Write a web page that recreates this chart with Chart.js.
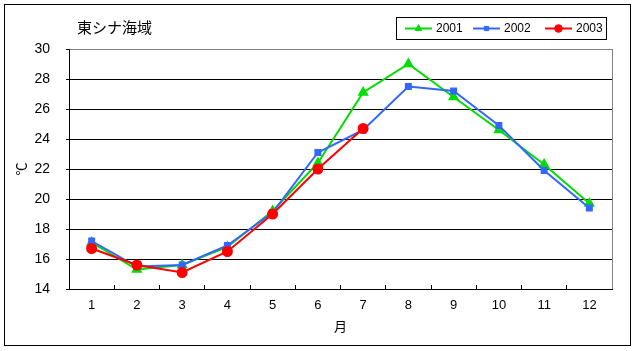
<!DOCTYPE html>
<html>
<head>
<meta charset="utf-8">
<script src="https://cdn.jsdelivr.net/npm/chart.js@4.4.1/dist/chart.umd.min.js"></script>
<style>
  html, body { margin: 0; padding: 0; background: #fff; }
  canvas { display: block; }
</style>
</head>
<body>
<canvas id="chart" width="635" height="351"></canvas>
<script>
// data
const months = ['1', '2', '3', '4', '5', '6', '7', '8', '9', '10', '11', '12'];
const temp2001 = [17.1, 15.3, 15.6, 16.8, 19.2, 22.4, 27.1, 29.0, 26.8, 24.6, 22.3, 19.7];
const temp2002 = [17.2, 15.5, 15.6, 16.9, 19.1, 23.1, 24.6, 27.5, 27.2, 24.9, 21.9, 19.4];
const temp2003 = [16.7, 15.6, 15.1, 16.5, 19.0, 22.0, 24.7, null, null, null, null, null];
const seriesNames = ['2001', '2002', '2003'];
const yMin = 14;
const yMax = 30;
const yStep = 2;
const chartTitle = '東シナ海域';
const xTitle = '月';
const yTitle = '℃';

const numFont = 'Liberation Sans';
const jpFont = 'Noto Sans CJK JP';

// outer frame, title, gray plot border and a boxed legend
const decorPlugin = {
  id: 'decor',
  beforeDraw(chart) {
    const ctx = chart.ctx;
    ctx.save();
    ctx.fillStyle = '#fff';
    ctx.fillRect(0, 0, chart.width, chart.height);
    ctx.strokeStyle = '#000';
    ctx.lineWidth = 1;
    ctx.strokeRect(4.5, 4.5, 626, 341);
    ctx.fillStyle = '#000';
    ctx.font = '15px "' + jpFont + '"';
    ctx.textBaseline = 'middle';
    ctx.fillText(chartTitle, 77, 27);
    ctx.restore();
  },
  beforeDatasetsDraw(chart) {
    const ctx = chart.ctx;
    const a = chart.chartArea;
    ctx.save();
    ctx.strokeStyle = '#808080';
    ctx.lineWidth = 1;
    ctx.beginPath();
    ctx.moveTo(Math.round(a.right) + 0.5, a.top);
    ctx.lineTo(Math.round(a.right) + 0.5, a.bottom);
    ctx.stroke();
    ctx.restore();
  },
  afterDraw(chart) {
    const ctx = chart.ctx;
    ctx.save();
    ctx.strokeStyle = '#000';
    ctx.lineWidth = 1;
    ctx.fillStyle = '#fff';
    ctx.fillRect(396.5, 17.5, 210, 22);
    ctx.strokeRect(396.5, 17.5, 210, 22);
    const starts = [405, 473, 545];
    const y = 28.5;
    chart.data.datasets.forEach((ds, i) => {
      const x0 = starts[i];
      ctx.strokeStyle = ds.borderColor;
      ctx.lineWidth = 2;
      ctx.beginPath();
      ctx.moveTo(x0, y);
      ctx.lineTo(x0 + 27, y);
      ctx.stroke();
      ctx.fillStyle = ds.backgroundColor;
      ctx.strokeStyle = ds.borderColor;
      ctx.lineWidth = 1;
      Chart.helpers.drawPoint(ctx, {
        pointStyle: ds.pointStyle,
        radius: ds.pointRadius * 0.85,
        rotation: 0,
        borderWidth: 1
      }, x0 + 13.5, y);
      ctx.fillStyle = '#000';
      ctx.font = '12px "' + numFont + '"';
      ctx.textBaseline = 'middle';
      ctx.fillText(ds.label, x0 + 31, y);
    });
    ctx.restore();
  }
};

new Chart(document.getElementById('chart'), {
  type: 'line',
  data: {
    labels: months,
    datasets: [
      {
        label: seriesNames[0],
        data: temp2001,
        borderColor: '#00dd00',
        backgroundColor: '#00dd00',
        pointStyle: 'triangle',
        pointRadius: 4.5,
        borderWidth: 2,
        order: 3
      },
      {
        label: seriesNames[1],
        data: temp2002,
        borderColor: '#3366ff',
        backgroundColor: '#3366ff',
        pointStyle: 'rect',
        pointRadius: 3.5,
        borderWidth: 2,
        order: 2
      },
      {
        label: seriesNames[2],
        data: temp2003,
        borderColor: '#ff0000',
        backgroundColor: '#ff0000',
        pointStyle: 'circle',
        pointRadius: 4.5,
        borderWidth: 2,
        order: 1
      }
    ]
  },
  options: {
    responsive: false,
    animation: false,
    events: [],
    layout: { padding: { left: 10, right: 23, top: 49, bottom: 10 } },
    plugins: {
      legend: { display: false },
      tooltip: { enabled: false },
      title: { display: false }
    },
    elements: { line: { tension: 0 } },
    scales: {
      x: {
        offset: true,
        grid: { offset: true, drawOnChartArea: false, color: '#000', tickLength: -4 },
        border: { color: '#000', width: 1 },
        ticks: { color: '#000', font: { family: numFont, size: 13 }, padding: 13, maxRotation: 0 },
        title: {
          display: true, text: xTitle, color: '#000',
          font: { family: jpFont, size: 13 }, padding: { top: 0, bottom: 7 }
        },
        afterFit(scale) { scale.height = 52; }
      },
      y: {
        min: yMin,
        max: yMax,
        grid: {
          color: (c) => (c.tick && c.tick.value === yMax ? '#808080' : '#000'),
          tickColor: '#000',
          tickLength: 3
        },
        border: { color: '#000', width: 1 },
        ticks: { stepSize: yStep, color: '#000', font: { family: numFont, size: 14 }, padding: 16 },
        title: {
          display: true, text: yTitle, color: '#000',
          font: { family: jpFont, size: 13 }, padding: { top: 3, bottom: 0 }
        },
        afterFit(scale) { scale.width = 59; }
      }
    }
  },
  plugins: [decorPlugin]
});
</script>
</body>
</html>
